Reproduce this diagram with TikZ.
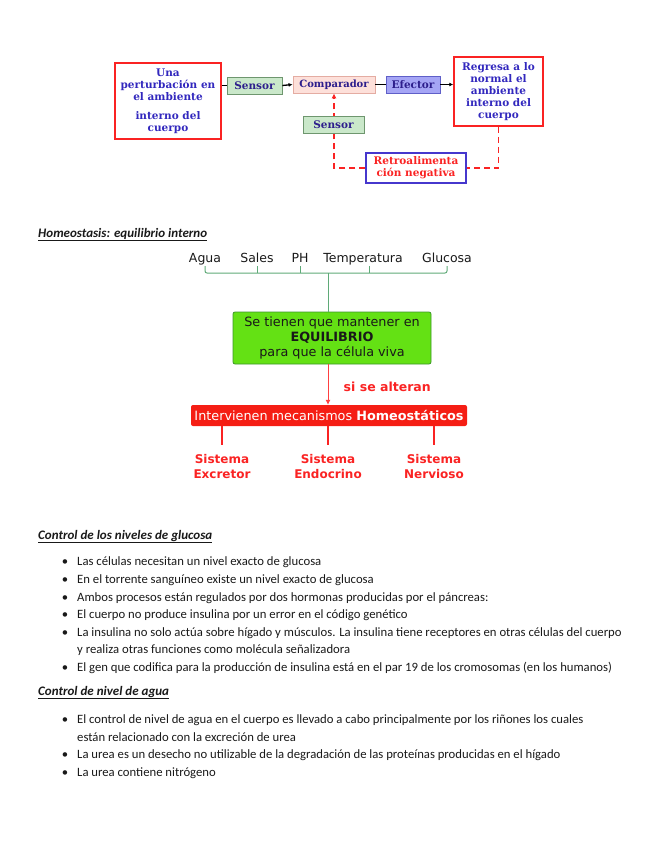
\documentclass[tikz,border=0pt]{standalone}
\usepackage{fontspec}
\setmainfont{Carlito}
\newfontfamily\diagfont{DejaVu Sans}
\newfontfamily\boxfont{DejaVu Serif}
\usetikzlibrary{arrows.meta, positioning, backgrounds}
\definecolor{alarmred}{RGB}{250, 35, 35}
\definecolor{boxblue}{RGB}{50, 40, 190}
\definecolor{navytext}{RGB}{45, 30, 140}
\definecolor{sensgreen}{RGB}{202, 232, 202}
\definecolor{sensedge}{RGB}{110, 150, 110}
\definecolor{comppink}{RGB}{253, 224, 218}
\definecolor{compedge}{RGB}{228, 172, 162}
\definecolor{efecblue}{RGB}{165, 165, 245}
\definecolor{efecedge}{RGB}{95, 95, 200}
\definecolor{retroedge}{RGB}{70, 55, 205}
\definecolor{limegreen}{RGB}{100, 225, 20}
\definecolor{limeedge}{RGB}{60, 150, 40}
\definecolor{bracegreen}{RGB}{95, 170, 120}
\definecolor{barred}{RGB}{245, 30, 20}
\definecolor{inktext}{RGB}{25, 25, 25}

\begin{document}
\begin{tikzpicture}[x=1pt, y=-1pt]
    \tikzstyle{frame} = [rectangle, draw=alarmred, line width=1.5pt, fill=white,
                         text=boxblue, align=center, inner sep=0pt,
                         font=\boxfont\bfseries\fontsize{10.5}{12}\selectfont]
    \tikzstyle{blk}   = [rectangle, line width=0.8pt, minimum height=17pt, inner sep=0pt,
                         text=navytext, font=\boxfont\bfseries\fontsize{10.5}{12}\selectfont]
    \tikzstyle{arr}   = [-{Latex[length=4pt, width=4pt]}, line width=1.3pt, black]
    \tikzstyle{lnk}   = [line width=1.3pt, black]
    \tikzstyle{fb}    = [alarmred, line width=1.5pt, dash pattern=on 6pt off 4pt]
    \tikzstyle{word}  = [anchor=base, inner sep=1pt, text depth=3pt,
                         font=\diagfont\fontsize{12.5}{14}\selectfont, text=inktext]
    \tikzstyle{brace} = [bracegreen, line width=1pt]
    \tikzstyle{sist}  = [align=center, inner sep=0pt, text=alarmred,
                         font=\diagfont\bfseries\fontsize{12}{15}\selectfont]
    \tikzstyle{head}  = [anchor=base west, inner sep=0pt, text=inktext,
                         font=\fontsize{13}{15}\selectfont\bfseries\itshape]
    \tikzstyle{itm}   = [anchor=base west, inner sep=0pt, text=inktext,
                         font=\fontsize{12.7}{15}\selectfont]
    \tikzstyle{dot}   = [itm, anchor=base]

    \useasboundingbox (0,0) rectangle (655,848);

    %% Feedback loop (top)
    \node[frame, minimum width=106pt, minimum height=76pt] (pert) at (168,101)
      {Una\\perturbación en\\el ambiente\\[7pt]interno del\\cuerpo};
    \node[blk, fill=sensgreen, draw=sensedge, minimum width=55pt]  (sen1) at (254.5,85.5) {Sensor};
    \node[blk, fill=comppink,  draw=compedge, minimum width=82pt]  (comp) at (334,84.5)   {\fontsize{10}{12}\selectfont Comparador};
    \node[blk, fill=efecblue,  draw=efecedge, minimum width=54pt]  (efec) at (413,84.5)   {Efector};
    \node[frame, minimum width=89pt, minimum height=69pt] (norm) at (498.5,91.5)
      {Regresa a lo\\normal el\\ambiente\\interno del\\cuerpo};
    \node[blk, fill=sensgreen, draw=sensedge, minimum width=61pt]  (sen2) at (333.5,124.5) {Sensor};
    \node[frame, draw=retroedge, line width=1.2pt, text=alarmred,
          minimum width=100pt, minimum height=30pt] (retro) at (416,168)
      {Retroalimenta\\ción negativa};

    \draw[lnk] (sen1.west -| pert.east) -- (sen1.west);
    \draw[arr] (sen1.east) -- (comp.west);
    \draw[lnk] (comp.east) -- (efec.west);
    \draw[arr] (efec.east) -- (efec.east -| norm.west);
    \begin{scope}[on background layer]
      \draw[fb] (norm.south) |- (retro.east);
      \draw[fb, -{Latex[length=5pt, width=5pt]}] (retro.west) -| (comp.south);
    \end{scope}

    %% Homeostasis map
    \node[head] (hhead) at (38,237) {\underline{Homeostasis: equilibrio interno}};

    \node[word] (agua)  at (205,262) {Agua};
    \node[word] (sales) at (257,262) {Sales};
    \node[word] (ph)    at (300,262) {PH};
    \node[word] (temp)  at (363,262) {Temperatura};
    \node[word] (gluc)  at (447,262) {Glucosa};
    \coordinate (hub) at (328,273);

    \node[rectangle, rounded corners=2pt, fill=limegreen, draw=limeedge, line width=0.8pt,
          minimum width=198pt, minimum height=52pt, align=center, text=inktext,
          font=\diagfont\fontsize{12.8}{15}\selectfont] (equil) at (332,338)
      {Se tienen que mantener en\\\textbf{EQUILIBRIO}\\para que la célula viva};

    \draw[brace, rounded corners=2pt] (agua.south) |- (hub) -| (gluc.south);
    \draw[brace] (sales.south) -- (sales.south |- hub);
    \draw[brace] (ph.south) -- (ph.south |- hub);
    \draw[brace] ([xshift=6pt]temp.south) -- ([xshift=6pt]temp.south |- hub);
    \draw[brace] (hub) -- (hub |- equil.north);

    \node[rectangle, rounded corners=2pt, fill=barred, minimum width=276pt, minimum height=21pt,
          inner sep=0pt, text=white, font=\diagfont\fontsize{12.8}{14}\selectfont] (mech) at (329,415.5)
      {Intervienen mecanismos \textbf{Homeostáticos}};

    \draw[-{Latex[length=5pt, width=5pt]}, red!75, line width=0.8pt] (hub |- equil.south) --
      node[pos=0.5, anchor=west, xshift=12pt, yshift=-2pt, text=alarmred,
           font=\diagfont\bfseries\fontsize{12.5}{14}\selectfont] (alt) {si se alteran}
      (hub |- mech.north);

    \node[sist] (exc)  at (222,466.5) {Sistema\\Excretor};
    \node[sist] (endo) at (328,466.5) {Sistema\\Endocrino};
    \node[sist] (nerv) at (434,466.5) {Sistema\\Nervioso};
    \draw[alarmred, line width=1.5pt, shorten >=9pt] (mech.south -| exc.north)  -- (exc.north);
    \draw[alarmred, line width=1.5pt, shorten >=9pt] (mech.south -| endo.north) -- (endo.north);
    \draw[alarmred, line width=1.5pt, shorten >=9pt] (mech.south -| nerv.north) -- (nerv.north);

    %% Control de glucosa
    \node[head] (ghead) at (38,539) {\underline{Control de los niveles de glucosa}};
    \node[dot] (gd1) at (65,565) {\textbullet};
    \node[itm] (g1)  at (77,565) {Las células necesitan un nivel exacto de glucosa};
    \node[dot] (gd2) at (65,583) {\textbullet};
    \node[itm] (g2)  at (77,583) {En el torrente sanguíneo existe un nivel exacto de glucosa};
    \node[dot] (gd3) at (65,601) {\textbullet};
    \node[itm] (g3)  at (77,601) {Ambos procesos están regulados por dos hormonas producidas por el páncreas:};
    \node[dot] (gd4) at (65,618) {\textbullet};
    \node[itm] (g4)  at (77,618) {El cuerpo no produce insulina por un error en el código genético};
    \node[dot] (gd5) at (65,636) {\textbullet};
    \node[itm] (g5)  at (77,636) {La insulina no solo actúa sobre hígado y músculos. La insulina tiene receptores en otras células del cuerpo};
    \node[itm] (g5b) at (77,653) {y realiza otras funciones como molécula señalizadora};
    \node[dot] (gd6) at (65,671) {\textbullet};
    \node[itm] (g6)  at (77,671) {El gen que codifica para la producción de insulina está en el par 19 de los cromosomas (en los humanos)};

    %% Control de agua
    \node[head] (ahead) at (38,695) {\underline{Control de nivel de agua}};
    \node[dot] (ad1) at (65,723) {\textbullet};
    \node[itm] (a1)  at (77,723) {El control de nivel de agua en el cuerpo es llevado a cabo principalmente por los riñones los cuales};
    \node[itm] (a1b) at (77,741) {están relacionado con la excreción de urea};
    \node[dot] (ad2) at (65,758) {\textbullet};
    \node[itm] (a2)  at (77,758) {La urea es un desecho no utilizable de la degradación de las proteínas producidas en el hígado};
    \node[dot] (ad3) at (65,776) {\textbullet};
    \node[itm] (a3)  at (77,776) {La urea contiene nitrógeno};
\end{tikzpicture}
\end{document}
